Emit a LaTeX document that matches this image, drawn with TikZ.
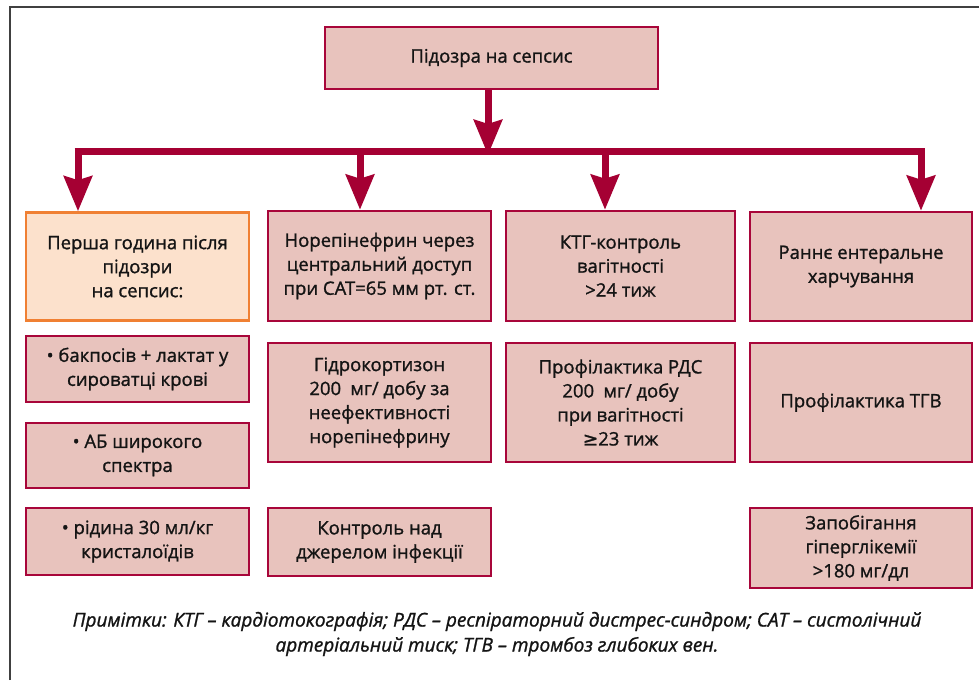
\documentclass[tikz,border=0pt]{standalone}
\usepackage{fontspec}
\setmainfont{Open Sans}[FakeBold=1.2]
\newfontfamily\symf{DejaVu Sans}[FakeBold=1.2]
\usetikzlibrary{arrows.meta}
\definecolor{bord}{HTML}{A8063A}
\definecolor{boxfill}{HTML}{E8C3BD}
\definecolor{obord}{HTML}{F08033}
\definecolor{ofill}{HTML}{FCE1CC}
\definecolor{arrc}{HTML}{A50033}
\definecolor{txt}{HTML}{141414}
\tikzset{
  pbox/.style={draw=bord, fill=boxfill, line width=2.5pt, inner sep=0pt, align=center,
    text=txt, font=\fontsize{18.5}{24}\selectfont},
  obox/.style={pbox, draw=obord, fill=ofill},
  arr/.style={draw=arrc, line width=7pt, -{Stealth[length=35pt,width=28pt,inset=4pt]}},
  barline/.style={draw=arrc, line width=7pt},
  framel/.style={draw=black!75, line width=1.5pt}
}
\begin{document}
\begin{tikzpicture}[x=1pt,y=-1pt]
\useasboundingbox (0,0) rectangle (979,680);
\coordinate (fb) at (10,680);
\coordinate (fc) at (10,7);
\coordinate (fr) at (979,7);
\draw[framel] (fb) -- (fc) -- (fr);

\node[pbox, minimum width=333pt, minimum height=62pt] (top) at (491.5,58) {Підозра на сепсис};

\node[obox, minimum width=223pt, minimum height=108pt] (c1r1) at (137.5,266.5) {Перша година після\\підозри\\на сепсис:};
\node[pbox, minimum width=223pt, minimum height=110pt] (c2r1) at (379.5,266) {Норепінефрин через\\центральний доступ\\при САТ=65 мм рт. ст.};
\node[pbox, minimum width=229pt, minimum height=110pt] (c3r1) at (620.5,266) {КТГ-контроль\\вагітності\\>24 тиж};
\node[pbox, minimum width=222pt, minimum height=109pt] (c4r1) at (861,266.5) {Раннє ентеральне\\харчування};

\node[pbox, minimum width=223pt, minimum height=66pt] (c1a) at (137.5,369) {• бакпосів + лактат у\\сироватці крові};
\node[pbox, minimum width=223pt, minimum height=65pt] (c1b) at (137.5,455.5) {• АБ широкого\\спектра};
\node[pbox, minimum width=223pt, minimum height=67pt] (c1c) at (137.5,541.5) {• рідина 30 мл/кг\\кристалоїдів};

\node[pbox, minimum width=223pt, minimum height=119pt] (c2r2) at (379.5,402.5) {Гідрокортизон\\200\enspace мг/ добу за\\неефективності\\норепінефрину};
\node[pbox, minimum width=223pt, minimum height=68pt] (c2r3) at (379.5,542) {Контроль над\\джерелом інфекції};

\node[pbox, minimum width=229pt, minimum height=119pt] (c3r2) at (620.5,402.5) {Профілактика РДС\\200\enspace мг/ добу\\при вагітності\\{\symf ≥}23 тиж};

\node[pbox, minimum width=222pt, minimum height=119pt] (c4r2) at (861,402.5) {Профілактика ТГВ};
\node[pbox, minimum width=222pt, minimum height=80pt] (c4r3) at (861,548) {Запобігання\\гіперглікемії\\>180 мг/дл};

\coordinate (barL) at (74.5,151.5);
\coordinate (barR) at (924.5,151.5);
\coordinate (bm) at (488,155);
\coordinate (b1) at (78,151.5);
\coordinate (b2) at (360,151.5);
\coordinate (b3) at (605,151.5);
\coordinate (b4) at (921,151.5);
\draw[barline] (barL) -- (barR);
\draw[arr] (top.south -| bm) -- (bm);
\draw[arr] (b1) -- (b1 |- c1r1.north);
\draw[arr] (b2) -- (b2 |- c2r1.north);
\draw[arr] (b3) -- (b3 |- c3r1.north);
\draw[arr] (b4) -- (b4 |- c4r1.north);

\node[text=txt, align=center, font=\fontsize{19}{25}\selectfont\itshape] (note) at (497,634)
 {Примітки: КТГ – кардіотокографія; РДС – респіраторний дистрес-синдром; САТ – систолічний\\артеріальний тиск; ТГВ – тромбоз глибоких вен.};
\end{tikzpicture}
\end{document}
